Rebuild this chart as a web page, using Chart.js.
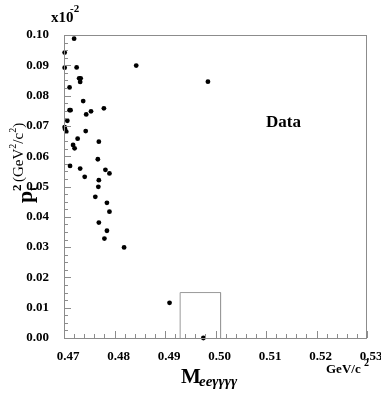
<!DOCTYPE html>
<html>
<head>
<meta charset="utf-8">
<script src="https://cdn.jsdelivr.net/npm/chart.js@4"></script>
<style>
  html, body { margin: 0; padding: 0; background: #fff; }
  #wrap { width: 381px; height: 393px; }
</style>
</head>
<body>
<div id="wrap"><canvas id="chart"></canvas></div>
<script>
// invariant mass (GeV/c^2) and pt^2 (x10^-2 (GeV/c)^2) of each event
const massX = [0.4720, 0.47013, 0.47013, 0.4725, 0.4730, 0.4733, 0.4732, 0.4711, 0.4843, 0.4985,
  0.4738, 0.4711, 0.4713, 0.47535, 0.4744, 0.4779, 0.47066, 0.47013, 0.4702, 0.47045,
  0.4743, 0.4727, 0.4769, 0.4718, 0.4721, 0.4767, 0.4712, 0.4732, 0.4782, 0.4790,
  0.4741, 0.4769, 0.4768, 0.4762, 0.4785, 0.4790, 0.4769, 0.4785, 0.4780, 0.4819,
  0.4909, 0.4976];
const ptSq = [0.0988, 0.0942, 0.0892, 0.0893, 0.0857, 0.0857, 0.0845, 0.0827, 0.0899, 0.0846,
  0.0782, 0.0752, 0.0752, 0.0748, 0.0738, 0.0758, 0.0717, 0.0696, 0.0690, 0.0681,
  0.0683, 0.0658, 0.0648, 0.0637, 0.0626, 0.0590, 0.0568, 0.0559, 0.0555, 0.0543,
  0.0532, 0.0521, 0.0499, 0.0466, 0.0446, 0.0417, 0.0381, 0.0354, 0.0328, 0.0299,
  0.0116, 0.0000];

// signal box
const boxX = [0.493, 0.493, 0.501, 0.501];
const boxY = [0.000, 0.015, 0.015, 0.000];

// axis ticks
const xMajor = [0.47, 0.48, 0.49, 0.50, 0.51, 0.52, 0.53];
const xMinor = [];
for (let i = 0; i <= 30; i++) xMinor.push(+(0.47 + i * 0.002).toFixed(3));
const yMajor = [0.00, 0.01, 0.02, 0.03, 0.04, 0.05, 0.06, 0.07, 0.08, 0.09, 0.10];
const yMinor = [];
for (let i = 0; i <= 40; i++) yMinor.push(+(i * 0.0025).toFixed(4));

const events = massX.map((m, i) => ({ x: m, y: ptSq[i] }));
const box = boxX.map((b, i) => ({ x: b, y: boxY[i] }));

const frameColor = '#8c8c8c';
const serif = "'Liberation Serif', 'DejaVu Serif', serif";

// frame, inside ticks and the text labels
const decor = {
  id: 'decor',
  afterDraw(chart) {
    const ctx = chart.ctx;
    const a = chart.chartArea;
    const xs = chart.scales.x, ys = chart.scales.y;
    ctx.save();
    ctx.strokeStyle = frameColor;
    ctx.lineWidth = 1;
    ctx.strokeRect(a.left + 0.5, a.top + 0.5, a.right - a.left - 1, a.bottom - a.top);
    ctx.beginPath();
    xMinor.forEach(v => {
      const px = Math.round(xs.getPixelForValue(v)) + 0.5;
      const major = xMajor.some(m => Math.abs(m - v) < 1e-6);
      ctx.moveTo(px, a.bottom);
      ctx.lineTo(px, a.bottom - (major ? 7 : 4));
    });
    yMinor.forEach(v => {
      const py = Math.round(ys.getPixelForValue(v)) + 0.5;
      const major = yMajor.some(m => Math.abs(m - v) < 1e-6);
      ctx.moveTo(a.left, py);
      ctx.lineTo(a.left + (major ? 7 : 4), py);
    });
    ctx.stroke();

    ctx.fillStyle = '#000';
    ctx.textBaseline = 'alphabetic';
    ctx.textAlign = 'left';
    // multiplier
    ctx.font = 'bold 15px ' + serif;
    ctx.fillText('x10', 51, 22);
    ctx.font = 'bold 11px ' + serif;
    ctx.fillText('-2', 70, 12);
    // Data
    ctx.font = 'bold 17px ' + serif;
    ctx.fillText('Data', 266, 127);
    // x title
    ctx.font = 'bold 21px ' + serif;
    ctx.fillText('M', 181, 383);
    ctx.font = 'bold italic 15px ' + serif;
    ctx.fillText('ee\u03b3\u03b3\u03b3\u03b3', 199, 386);
    // units
    ctx.font = 'bold 13px ' + serif;
    ctx.fillText('GeV/c', 326, 373);
    ctx.font = 'bold 10px ' + serif;
    ctx.fillText('2', 364, 366);
    // y title, rotated
    ctx.translate(32, 203);
    ctx.rotate(-Math.PI / 2);
    ctx.font = 'bold 22px ' + serif;
    ctx.fillText('p', 0, 0);
    ctx.font = 'bold 13px ' + serif;
    ctx.fillText('2', 12, -11);
    ctx.fillText('t', 12, 5);
    let cx = 21;
    const parts = [['(GeV', 0], ['2', -7], ['/c', 0], ['2', -7], [')', 0]];
    parts.forEach(p => {
      ctx.font = (p[1] ? '10px ' : '15px ') + serif;
      ctx.fillText(p[0], cx, p[1] - 9);
      cx += ctx.measureText(p[0]).width;
    });
    ctx.restore();
  }
};

new Chart(document.getElementById('chart'), {
  type: 'scatter',
  data: {
    datasets: [
      {
        data: events,
        backgroundColor: '#000',
        borderWidth: 0,
        pointRadius: 2.4,
        pointHoverRadius: 2.4,
        clip: false
      },
      {
        data: box,
        showLine: true,
        borderColor: '#9a9a9a',
        borderWidth: 1,
        pointRadius: 0,
        fill: false
      }
    ]
  },
  options: {
    responsive: true,
    maintainAspectRatio: false,
    animation: false,
    events: [],
    layout: { padding: { left: 0, top: 35, right: 14, bottom: 0 } },
    plugins: { legend: { display: false }, tooltip: { enabled: false } },
    scales: {
      x: {
        type: 'linear',
        min: 0.47,
        max: 0.53,
        afterFit: s => { s.height = 55; s.paddingLeft = 0; s.paddingRight = 0; },
        afterBuildTicks: s => { s.ticks = xMajor.map(v => ({ value: v })); },
        grid: { display: false },
        border: { display: false },
        ticks: {
          padding: 3,
          labelOffset: 4,
          maxRotation: 0,
          color: '#000',
          font: { family: serif, size: 13, weight: 'bold' },
          callback: v => v.toFixed(2)
        }
      },
      y: {
        type: 'linear',
        min: 0,
        max: 0.1,
        afterFit: s => { s.width = 64; s.paddingTop = 0; s.paddingBottom = 0; },
        afterBuildTicks: s => { s.ticks = yMajor.map(v => ({ value: v })); },
        grid: { display: false },
        border: { display: false },
        ticks: {
          padding: 7,
          color: '#000',
          font: { family: serif, size: 13, weight: 'bold' },
          callback: v => v.toFixed(2)
        }
      }
    }
  },
  plugins: [decor]
});
</script>
</body>
</html>
